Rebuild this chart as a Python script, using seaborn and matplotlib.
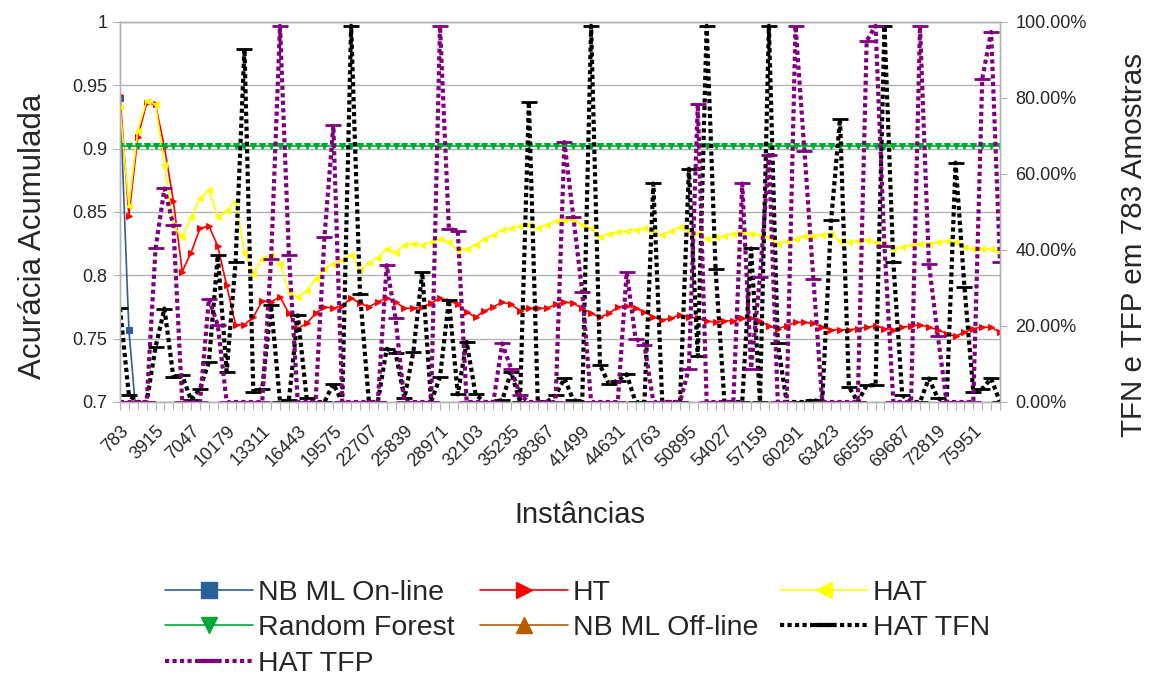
import numpy as np
import pandas as pd
import matplotlib
matplotlib.use("Agg")
import matplotlib.pyplot as plt
import seaborn as sns
from matplotlib.lines import Line2D
from matplotlib.ticker import FuncFormatter

sns.set_style("white")
plt.rcParams["font.family"] = ["Liberation Sans", "DejaVu Sans"]

# ---------------- data ----------------
instancias = [783 * i for i in range(1, 101)]

nb_online = [0.940, 0.757, 0.674]   # afterwards below 0.7 (outside the axis)
nb_offline = []                     # entirely below 0.7 (not visible)

random_forest = [
    0.902, 0.902, 0.902, 0.902, 0.902, 0.902, 0.902, 0.902, 0.902, 0.902,
    0.902, 0.902, 0.902, 0.902, 0.902, 0.902, 0.902, 0.902, 0.902, 0.902,
    0.902, 0.902, 0.902, 0.902, 0.902, 0.902, 0.902, 0.902, 0.902, 0.902,
    0.902, 0.902, 0.902, 0.902, 0.902, 0.902, 0.902, 0.902, 0.902, 0.902,
    0.902, 0.902, 0.902, 0.902, 0.902, 0.902, 0.902, 0.902, 0.902, 0.902,
    0.902, 0.902, 0.902, 0.902, 0.902, 0.902, 0.902, 0.902, 0.902, 0.902,
    0.902, 0.902, 0.902, 0.902, 0.902, 0.902, 0.902, 0.902, 0.902, 0.902,
    0.902, 0.902, 0.902, 0.902, 0.902, 0.902, 0.902, 0.902, 0.902, 0.902,
    0.902, 0.902, 0.902, 0.902, 0.902, 0.902, 0.902, 0.902, 0.902, 0.902,
    0.902, 0.902, 0.902, 0.902, 0.902, 0.902, 0.902, 0.902, 0.902, 0.902,
]

ht = [
    0.942, 0.847, 0.909, 0.936, 0.935, 0.901, 0.859, 0.803, 0.818, 0.837,
    0.839, 0.823, 0.792, 0.761, 0.761, 0.767, 0.780, 0.779, 0.783, 0.770,
    0.758, 0.762, 0.770, 0.775, 0.774, 0.776, 0.782, 0.778, 0.775, 0.779,
    0.782, 0.779, 0.774, 0.774, 0.775, 0.778, 0.782, 0.780, 0.777, 0.771,
    0.767, 0.772, 0.775, 0.779, 0.777, 0.772, 0.774, 0.774, 0.774, 0.777,
    0.779, 0.778, 0.774, 0.770, 0.767, 0.770, 0.775, 0.776, 0.774, 0.771,
    0.767, 0.765, 0.766, 0.769, 0.767, 0.766, 0.764, 0.763, 0.764, 0.764,
    0.766, 0.766, 0.764, 0.760, 0.758, 0.760, 0.763, 0.763, 0.762, 0.759,
    0.757, 0.757, 0.757, 0.758, 0.759, 0.760, 0.758, 0.757, 0.759, 0.760,
    0.761, 0.759, 0.757, 0.754, 0.752, 0.755, 0.758, 0.759, 0.759, 0.755,
]

hat = [
    0.933, 0.855, 0.914, 0.938, 0.935, 0.887, 0.839, 0.830, 0.846, 0.861,
    0.867, 0.846, 0.851, 0.859, 0.818, 0.801, 0.813, 0.816, 0.809, 0.787,
    0.783, 0.788, 0.797, 0.805, 0.809, 0.812, 0.816, 0.804, 0.810, 0.814,
    0.821, 0.818, 0.824, 0.825, 0.824, 0.826, 0.829, 0.826, 0.820, 0.821,
    0.824, 0.829, 0.832, 0.836, 0.837, 0.839, 0.840, 0.837, 0.840, 0.843,
    0.844, 0.844, 0.840, 0.837, 0.830, 0.833, 0.834, 0.835, 0.836, 0.837,
    0.834, 0.832, 0.835, 0.838, 0.835, 0.833, 0.829, 0.830, 0.831, 0.833,
    0.834, 0.833, 0.832, 0.830, 0.825, 0.827, 0.829, 0.831, 0.831, 0.832,
    0.833, 0.827, 0.826, 0.827, 0.828, 0.826, 0.824, 0.821, 0.822, 0.824,
    0.825, 0.825, 0.826, 0.827, 0.826, 0.822, 0.821, 0.821, 0.821, 0.818,
]

hat_tfn = [  # percent
    24.7, 1.8, 0.0, 0.0, 14.5, 24.6, 6.6, 7.0, 0.5, 3.5,
    10.5, 38.6, 8.0, 36.8, 93.0, 2.6, 3.5, 25.4, 0.0, 0.5,
    22.8, 1.0, 0.0, 0.0, 4.8, 0.0, 99.0, 28.5, 0.0, 0.0,
    14.0, 13.0, 1.0, 13.2, 34.2, 0.0, 6.6, 26.8, 2.0, 15.8,
    2.0, 0.0, 0.0, 0.5, 7.9, 0.0, 79.0, 0.0, 0.0, 1.8,
    6.2, 0.5, 0.0, 99.0, 9.7, 4.8, 5.6, 7.3, 0.0, 0.0,
    57.5, 0.0, 0.0, 0.0, 61.4, 12.0, 99.0, 35.0, 0.0, 0.0,
    0.0, 40.4, 0.0, 99.0, 15.4, 0.0, 0.0, 0.0, 0.5, 0.0,
    47.8, 74.6, 4.0, 0.0, 4.4, 4.4, 99.0, 36.8, 1.8, 0.0,
    0.0, 6.2, 1.0, 0.0, 63.0, 30.3, 2.6, 3.5, 6.2, 0.0,
]

hat_tfp = [  # percent
    0.0, 0.0, 0.0, 0.0, 40.4, 56.2, 46.5, 0.0, 0.0, 0.0,
    27.2, 20.2, 0.0, 0.0, 0.0, 0.0, 0.0, 37.7, 99.0, 38.8,
    0.0, 0.0, 0.0, 43.4, 72.8, 0.0, 0.0, 0.0, 0.0, 0.0,
    36.0, 22.0, 0.0, 0.0, 0.0, 0.0, 99.0, 45.6, 45.0, 0.0,
    0.0, 0.0, 0.0, 15.4, 8.8, 1.8, 0.0, 0.0, 0.0, 0.0,
    68.4, 48.7, 29.0, 0.0, 0.0, 0.0, 0.0, 34.2, 16.7, 15.0,
    0.0, 0.0, 0.0, 0.0, 8.8, 78.5, 0.0, 0.0, 0.0, 0.0,
    57.5, 8.8, 33.0, 65.0, 0.0, 0.0, 99.0, 66.0, 32.5, 0.0,
    0.0, 0.0, 0.0, 0.0, 95.0, 99.0, 41.0, 0.0, 0.0, 0.0,
    99.0, 36.4, 17.5, 0.0, 0.0, 0.0, 0.0, 85.0, 97.4, 36.8,
]

tick_labels = [str(v) if i % 4 == 0 else "" for i, v in enumerate(instancias)]

# colours
C_NBON = "#2a6099"
C_HT = "#ff0000"
C_HAT = "#ffff00"
C_RF = "#00a933"
C_NBOFF = "#b85c00"
C_TFN = "#000000"
C_TFP = "#800080"
GRID = "#b3b3b3"

W, H = 1150, 678
fig = plt.figure(figsize=(W / 100, H / 100), dpi=100)
ax = fig.add_axes([120 / W, 1 - 402 / H, 880 / W, 380 / H])
ax2 = ax.twinx()

left_series = [
    (nb_online, C_NBON, "s", 5),
    (ht, C_HT, ">", 5),
    (hat, C_HAT, "<", 5),
    (random_forest, C_RF, "v", 5),
    (nb_offline, C_NBOFF, "^", 5),
]
for vals, col, mk, ms in left_series:
    if len(vals) == 0:
        continue
    df = pd.DataFrame({"x": instancias[:len(vals)], "y": vals})
    sns.lineplot(data=df, x="x", y="y", ax=ax, color=col, marker=mk,
                 markersize=ms, markeredgecolor=col, linewidth=1.2,
                 legend=False, sort=False)

for vals, col in [(hat_tfn, C_TFN), (hat_tfp, C_TFP)]:
    df = pd.DataFrame({"x": instancias, "y": vals})
    sns.lineplot(data=df, x="x", y="y", ax=ax2, color=col, marker="_",
                 markersize=11, markeredgewidth=2, markeredgecolor=col,
                 linewidth=3, linestyle=(0, (1, 0.8)), legend=False, sort=False)

ax.set_xlim(instancias[0], instancias[-1])
ax.set_ylim(0.7, 1.0)
ax2.set_ylim(0, 100)

ax.set_yticks([0.7, 0.75, 0.8, 0.85, 0.9, 0.95, 1.0])
ax.set_yticklabels(["0.7", "0.75", "0.8", "0.85", "0.9", "0.95", "1"])
ax2.set_yticks([0, 20, 40, 60, 80, 100])
ax2.yaxis.set_major_formatter(FuncFormatter(lambda v, p: f"{v:.2f}%"))

ax.set_xticks(instancias)
ax.set_xticklabels(tick_labels, rotation=45, ha="right", va="top",
                   rotation_mode="anchor")

ax.set_xlabel("")
ax.set_ylabel("")
ax2.set_ylabel("")

ax.yaxis.grid(True, color=GRID, linewidth=1)
ax.set_axisbelow(True)
for a in (ax, ax2):
    for s in a.spines.values():
        s.set_color(GRID)
        s.set_linewidth(1)
ax.tick_params(axis="y", direction="out", length=5, color=GRID, labelsize=13,
               pad=4, left=True)
ax.tick_params(axis="x", direction="out", length=6, color=GRID, labelsize=13,
               pad=9, bottom=True)
ax2.tick_params(axis="y", direction="out", length=5, color=GRID, labelsize=13,
                pad=6, right=True)

fig.text(33 / W, 1 - 236 / H, "Acurácia Acumulada", rotation=90,
         ha="center", va="center", fontsize=22.5)
fig.text(1134 / W, 1 - 245 / H, "TFN e TFP em 783 Amostras", rotation=90,
         ha="center", va="center", fontsize=21.3)
fig.text(580 / W, 1 - 515 / H, "Instâncias", ha="center", va="center",
         fontsize=21)

def h(col, mk, ms, ls="-", lw=1.2, mew=1):
    return Line2D([], [], color=col, marker=mk, markersize=ms, linestyle=ls,
                  linewidth=lw, markeredgecolor=col, markeredgewidth=mew)

dot = (0, (1, 0.8))
cols = [
    ([h(C_NBON, "s", 11), h(C_RF, "v", 12), h(C_TFP, "_", 16, dot, 3, 3)],
     ["NB ML On-line", "Random Forest", "HAT TFP"], 165),
    ([h(C_HT, ">", 12), h(C_NBOFF, "^", 12)],
     ["HT", "NB ML Off-line"], 480),
    ([h(C_HAT, "<", 12), h(C_TFN, "_", 16, dot, 3, 3)],
     ["HAT", "HAT TFN"], 780),
]
for hs, ls, x0 in cols:
    fig.legend(handles=hs, labels=ls, loc="upper left",
               bbox_to_anchor=(x0 / W, 1 - 580 / H), frameon=False,
               fontsize=20.5, handlelength=3.1, handletextpad=0.15,
               labelspacing=0.33, borderpad=0, borderaxespad=0)

fig.savefig("out.png", dpi=100)
